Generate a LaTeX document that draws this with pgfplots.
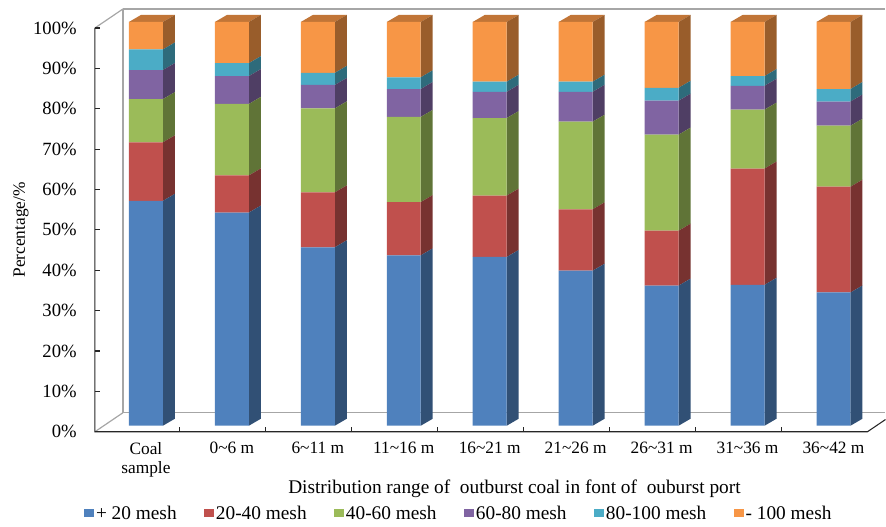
\documentclass[border=0pt]{standalone}
\usepackage{pgfplots}
\usepackage{pgfplotstable}
\pgfplotsset{compat=1.18}
\usepackage{fontspec}
\setmainfont{Liberation Serif}

\definecolor{cA}{HTML}{4F81BD}
\definecolor{cB}{HTML}{C0504D}
\definecolor{cC}{HTML}{9BBB59}
\definecolor{cD}{HTML}{8064A2}
\definecolor{cE}{HTML}{4BACC6}
\definecolor{cF}{HTML}{F79646}
\definecolor{wallgrey}{HTML}{A6A6A6}
\definecolor{axisdark}{HTML}{262626}

% size fractions (%) of each sample, bottom to top of the stack
\pgfplotstableread{
x  a    b    c    d   e   f
0  55.7 14.5 10.7 7.2 5.1 6.8
1  52.8  9.2 17.7 6.9 3.2 10.2
2  44.2 13.6 20.8 5.8 3.0 12.6
3  42.2 13.2 21.1 6.9 2.9 13.7
4  41.8 15.2 19.2 6.5 2.5 14.8
5  38.4 15.2 21.7 7.4 2.5 14.8
6  34.7 13.6 23.8 8.4 3.2 16.3
7  34.9 28.8 14.6 5.9 2.4 13.4
8  33.0 26.2 15.1 6.0 3.1 16.6
}\sizedata

\pgfplotsset{
  sq legend/.style={legend image code/.code={\fill[##1] (0pt,-3pt) rectangle (7.5pt,3pt);}},
}

\begin{document}
\begin{tikzpicture}
\begin{scope}[x=0.75pt,y=0.75pt]
\useasboundingbox (0,0) rectangle (886,523);
% back wall and floor of the chart box
\begin{scope}[wallgrey, line width=0.9pt]
  \draw (123,514) -- (886,514);
  \draw (123,514) -- (123,110);
  \draw (123,110) -- (886,110);
  \draw (95,495) -- (123,514);
  \draw (95,91) -- (123,110);
\end{scope}
\end{scope}

\begin{axis}[
  at={(109.5pt,72.75pt)}, anchor=origin,
  scale only axis, width=580.5pt, height=303pt,
  xmin=-0.5, xmax=8.5, ymin=0, ymax=100,
  clip=false,
  axis line style={draw=none},
  major tick length=0pt,
  ybar stacked, bar width=25.5pt,
  xtick={0,...,8},
  xticklabels={{Coal\\sample},{0\textasciitilde 6 m},{6\textasciitilde 11 m},{11\textasciitilde 16 m},{16\textasciitilde 21 m},{21\textasciitilde 26 m},{26\textasciitilde 31 m},{31\textasciitilde 36 m},{36\textasciitilde 42 m}},
  xticklabel style={anchor=north, inner sep=0pt, yshift=-12pt, align=center, font=\fontsize{13}{14.5}\selectfont},
  ytick={0,10,...,100},
  yticklabels={0\%,10\%,20\%,30\%,40\%,50\%,60\%,70\%,80\%,90\%,100\%},
  yticklabel style={anchor=east, inner sep=0pt, xshift=-19.5pt, yshift=-4.5pt, font=\fontsize{14}{16}\selectfont},
  xlabel={Distribution range of\ \ outburst coal in font of\ \ ouburst port},
  xlabel style={at={(axis description cs:0.532,-0.157)}, anchor=center, font=\fontsize{14.5}{16}\selectfont},
  ylabel={Percentage/\%},
  ylabel style={at={(axis description cs:-0.106,0.485)}, anchor=center, font=\fontsize{13}{15}\selectfont},
  legend columns=6,
  legend style={at={(axis description cs:0.460,-0.217)}, anchor=center, draw=none, fill=none,
    font=\fontsize{14.5}{16}\selectfont,
    nodes={inner xsep=1.5pt},
    /tikz/every even column/.append style={column sep=19pt}},
]
\addplot+[fill=cA, draw=none, sq legend] table[x=x,y=a]{\sizedata};
\addplot+[fill=cB, draw=none, sq legend] table[x=x,y=b]{\sizedata};
\addplot+[fill=cC, draw=none, sq legend] table[x=x,y=c]{\sizedata};
\addplot+[fill=cD, draw=none, sq legend] table[x=x,y=d]{\sizedata};
\addplot+[fill=cE, draw=none, sq legend] table[x=x,y=e]{\sizedata};
\addplot+[fill=cF, draw=none, sq legend] table[x=x,y=f]{\sizedata};
\legend{+ 20 mesh, 20-40 mesh, 40-60 mesh, 60-80 mesh, 80-100 mesh, - 100 mesh}

% shaded side and top faces, stacked from the same table
\foreach \i in {0,...,8}{
  \pgfmathsetmacro\xr{\i+0.1977}
  \pgfmathsetmacro\xb{\xr+0.1395}
  \pgfmathsetmacro\xl{\i-0.1977}
  \pgfmathsetmacro\xlb{\xl+0.1395}
  \xdef\ylo{0}
  \foreach \col/\clr in {a/cA,b/cB,c/cC,d/cD,e/cE,f/cF}{
    \pgfplotstablegetelem{\i}{\col}\of\sizedata
    \pgfmathsetmacro\yhi{\ylo+\pgfplotsretval}
    \pgfmathsetmacro\ylob{\ylo+1.733}
    \pgfmathsetmacro\yhib{\yhi+1.733}
    \edef\face{\noexpand\fill[\clr!62!black] (axis cs:\xr,\ylo) -- (axis cs:\xb,\ylob) -- (axis cs:\xb,\yhib) -- (axis cs:\xr,\yhi) -- cycle;}
    \face
    \xdef\ylo{\yhi}
  }
  \pgfmathsetmacro\ytop{\ylo+1.733}
  \edef\face{\noexpand\fill[cF!78!black] (axis cs:\xl,\ylo) -- (axis cs:\xlb,\ytop) -- (axis cs:\xb,\ytop) -- (axis cs:\xr,\ylo) -- cycle;}
  \face
}
\end{axis}

% front axes with their ticks
\begin{scope}[x=0.75pt,y=0.75pt,axisdark, line width=0.8pt]
  \draw (95,495) -- (95,91) -- (868,91) -- (886,103.2);
  \foreach \k in {0,...,10} \draw (95,91+40.4*\k) -- (100,91+40.4*\k);
  \foreach \k in {0,...,7} \draw (180+86*\k,91) -- (180+86*\k,96);
\end{scope}
\end{tikzpicture}
\end{document}
